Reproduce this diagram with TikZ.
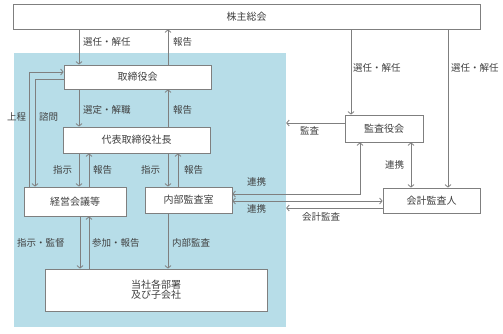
\documentclass[tikz,border=0pt]{standalone}
\usepackage{fontspec}
\setmainfont{Noto Sans CJK JP}
\usetikzlibrary{arrows.meta}
\definecolor{bluebg}{HTML}{B7DDE8}
\definecolor{lnc}{HTML}{7F7F7F}
\definecolor{txc}{HTML}{404040}
\begin{document}
\begin{tikzpicture}[x=1pt,y=-1pt,
  box/.style={draw=lnc,line width=0.8pt,fill=white,inner sep=0pt,text=txc,font=\fontsize{10}{12}\selectfont},
  arr/.style={draw=lnc,line width=0.8pt,-{Straight Barb[length=2.5pt,width=6pt]}},
  darr/.style={draw=lnc,line width=0.8pt,{Straight Barb[length=2.5pt,width=6pt]}-{Straight Barb[length=2.5pt,width=6pt]}},
  lbl/.style={anchor=west,inner sep=0pt,text=txc,font=\fontsize{9.5}{11}\selectfont}]
\useasboundingbox (0,0) rectangle (503,334);
\node[fill=bluebg,draw=none,minimum width=272pt,minimum height=274pt,inner sep=0pt] (org) at (150,190) {};
\node[box,minimum width=467pt,minimum height=25pt] (kabu) at (246.5,16.5) {株主総会};
\node[box,minimum width=147pt,minimum height=24pt] (tori) at (137.5,77) {取締役会};
\node[box,minimum width=147pt,minimum height=26pt] (dai) at (136.5,140) {代表取締役社長};
\node[box,minimum width=102pt,minimum height=29pt] (keiei) at (75,201.5) {経営会議等};
\node[box,minimum width=87pt,minimum height=26pt] (naibu) at (188.5,200) {内部監査室};
\node[box,minimum width=222pt,minimum height=42pt,align=center] (tousha) at (156,290) {当社各部署\\[-2pt]及び子会社};
\node[box,minimum width=78pt,minimum height=27pt] (kansa) at (384,128.5) {監査役会};
\node[box,minimum width=97pt,minimum height=25pt] (kaikei) at (431.5,200.5) {会計監査人};
% vertical connectors
\draw[arr] (kabu.south -| 79,0) -- (tori.north -| 79,0);
\draw[arr] (tori.north -| 168,0) -- (kabu.south -| 168,0);
\draw[arr] (tori.south -| 79,0) -- (dai.north -| 79,0);
\draw[arr] (dai.north -| 168,0) -- (tori.south -| 168,0);
\draw[arr] (dai.south -| 79,0) -- (keiei.north -| 79,0);
\draw[arr] (keiei.north -| 89,0) -- (dai.south -| 89,0);
\draw[arr] (dai.south -| 168,0) -- (naibu.north -| 168,0);
\draw[arr] (naibu.north -| 178,0) -- (dai.south -| 178,0);
\draw[arr] (keiei.south -| 80,0) -- (tousha.north -| 80,0);
\draw[arr] (tousha.north -| 89,0) -- (keiei.south -| 89,0);
\draw[arr] (naibu.south -| 168,0) -- (tousha.north -| 168,0);
% left loops
\draw[arr] (keiei.north -| 29,0) |- (tori.west |- 0,72);
\draw[arr] (tori.west |- 0,79) -| (keiei.north -| 35,0);
% right side
\draw[arr] (kansa.west |- 0,123) -- (org.east |- 0,123);
\draw[arr] (kabu.south -| 351,0) -- (kansa.north -| 351,0);
\draw[arr] (kabu.south -| 448,0) -- (kaikei.north -| 448,0);
\draw[darr] (naibu.east |- 0,194) -| (kansa.south -| 360,0);
\draw[darr] (kansa.south -| 411,0) -- (kaikei.north -| 411,0);
\draw[darr] (naibu.east |- 0,201) -- (kaikei.west |- 0,201);
\draw[arr] (kaikei.west |- 0,208) -- (org.east |- 0,208);
% labels
\node[lbl] (l1) at (83,42) {選任・解任};
\node[lbl] (l2) at (173,42) {報告};
\node[lbl] (l3) at (83,110) {選定・解職};
\node[lbl] (l4) at (173,110) {報告};
\node[lbl] (l5) at (7,117) {上程};
\node[lbl] (l6) at (39,117) {諮問};
\node[lbl] (l7) at (53,170) {指示};
\node[lbl] (l8) at (93,170) {報告};
\node[lbl] (l9) at (141,170) {指示};
\node[lbl] (l10) at (184,170) {報告};
\node[lbl] (l11) at (17,243) {指示・監督};
\node[lbl] (l12) at (92,243) {参加・報告};
\node[lbl] (l13) at (172,243) {内部監査};
\node[lbl] (l14) at (300,131) {監査};
\node[lbl] (l15) at (353,68) {選任・解任};
\node[lbl] (l16) at (451,68) {選任・解任};
\node[lbl] (l17) at (385,165) {連携};
\node[lbl] (l18) at (247,182) {連携};
\node[lbl] (l19) at (247,209) {連携};
\node[lbl] (l20) at (302,217) {会計監査};
\end{tikzpicture}
\end{document}
